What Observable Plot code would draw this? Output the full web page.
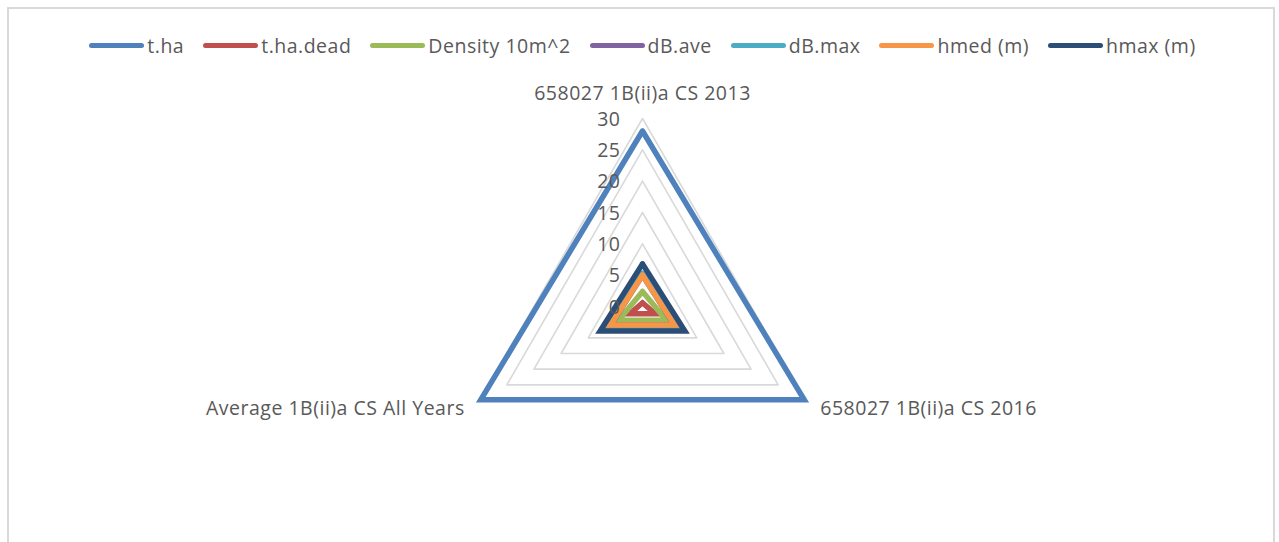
<!DOCTYPE html>
<html>
<head>
<meta charset="utf-8">
<script src="https://cdn.jsdelivr.net/npm/d3@7"></script>
<script src="https://cdn.jsdelivr.net/npm/@observablehq/plot@0.6"></script>
<style>
  html, body { margin: 0; padding: 0; background: #fff; overflow: hidden; }
  #wrap { position: relative; width: 1279px; height: 542px; overflow: hidden; font-family: "Open Sans", sans-serif; }
  #frame { position: absolute; left: 7px; top: 7px; width: 1268px; height: 600px; border: 2px solid #d9d9d9; box-sizing: border-box; pointer-events: none; }
  #legend { position: absolute; left: 0; top: 32px; width: 1304px; display: flex; justify-content: center; align-items: center; font-size: 19.5px; letter-spacing: 0.5px; color: #595959; }
  .item { display: flex; align-items: center; margin-right: 19px; }
  .sw { width: 55px; height: 5.5px; border-radius: 3px; margin-right: 3px; }
  #chart { position: absolute; left: 0; top: 0; }
  #chart text { letter-spacing: 0.5px; }
</style>
</head>
<body>
<div id="wrap">
  <div id="chart"></div>
  <div id="legend"></div>
  <div id="frame"></div>
</div>
<script>
// ---- data ----
const categories = ["658027 1B(ii)a CS 2013", "658027 1B(ii)a CS 2016", "Average 1B(ii)a CS All Years"];
const seriesNames = ["t.ha", "t.ha.dead", "Density 10m^2", "dB.ave", "dB.max", "hmed (m)", "hmax (m)"];
const seriesColors = ["#4F81BD", "#C0504D", "#9BBB59", "#8064A2", "#4BACC6", "#F79646", "#2C4D75"];
const t_ha      = [28.0, 29.8, 29.8];
const t_ha_dead = [0.6, 2.3, 2.3];
const density   = [2.4, 4.4, 4.4];
const dB_ave    = [5.0, 5.8, 5.8];
const dB_max    = [5.3, 7.2, 7.2];
const hmed      = [5.0, 5.9, 5.9];
const hmax      = [6.8, 7.8, 7.8];
const seriesValues = [t_ha, t_ha_dead, density, dB_ave, dB_max, hmed, hmax];
const ticks = [0, 5, 10, 15, 20, 25, 30];

// ---- geometry helpers (polar -> cartesian in data units) ----
const n = categories.length;
const ang = i => (i * 2 * Math.PI) / n; // clockwise from top
const px = (v, i) => v * Math.sin(ang(i));
const py = (v, i) => v * Math.cos(ang(i));

const gridRows = [];
ticks.filter(t => t > 0).forEach(t => {
  for (let i = 0; i <= n; i++) gridRows.push({t, x: px(t, i % n), y: py(t, i % n)});
});
const lineRows = [];
seriesValues.forEach((vals, s) => {
  for (let i = 0; i <= n; i++) lineRows.push({s, name: seriesNames[s], x: px(vals[i % n], i % n), y: py(vals[i % n], i % n)});
});
const tickRows = ticks.map(t => ({t, x: 0, y: t}));
const maxT = d3.max(ticks);
const catRows = categories.map((c, i) => ({c, i, x: px(maxT, i), y: py(maxT, i)}));

const k = 188 / 30; // px per unit
const cx = 642, cy = 306, W = 1279, H = 542;
const fs = 19.5;

const plot = Plot.plot({
  width: W, height: H, margin: 0,
  x: {domain: [-cx / k, (W - cx) / k], range: [0, W], axis: null},
  y: {domain: [-(H - cy) / k, cy / k], range: [H, 0], axis: null},
  style: {fontFamily: "Open Sans, sans-serif", background: "transparent"},
  marks: [
    Plot.line(gridRows, {x: "x", y: "y", z: "t", stroke: "#d9d9d9", strokeWidth: 1.6}),
    ...seriesValues.map((_, s) => Plot.line(lineRows.filter(d => d.s === s), {
      x: "x", y: "y", stroke: seriesColors[s], strokeWidth: 5.5, strokeLinejoin: "miter", strokeMiterlimit: 10
    })),
    Plot.text(tickRows, {x: "x", y: "y", text: d => String(d.t), textAnchor: "end", dx: -22, dy: 1, fontSize: fs, fill: "#595959"}),
    Plot.text(catRows.filter(d => d.i === 0), {x: "x", y: "y", text: "c", dy: -25, fontSize: fs, fill: "#595959"}),
    Plot.text(catRows.filter(d => d.i === 1), {x: "x", y: "y", text: "c", textAnchor: "start", dx: 15, dy: 8, fontSize: fs, fill: "#595959"}),
    Plot.text(catRows.filter(d => d.i === 2), {x: "x", y: "y", text: "c", textAnchor: "end", dx: -15, dy: 8, fontSize: fs, fill: "#595959"})
  ]
});
document.getElementById("chart").appendChild(plot);

// legend
const lg = document.getElementById("legend");
seriesNames.forEach((nm, s) => {
  const it = document.createElement("div");
  it.className = "item";
  const sw = document.createElement("div");
  sw.className = "sw";
  sw.style.background = seriesColors[s];
  const tx = document.createElement("span");
  tx.textContent = nm;
  it.appendChild(sw); it.appendChild(tx);
  lg.appendChild(it);
});
</script>
</body>
</html>
